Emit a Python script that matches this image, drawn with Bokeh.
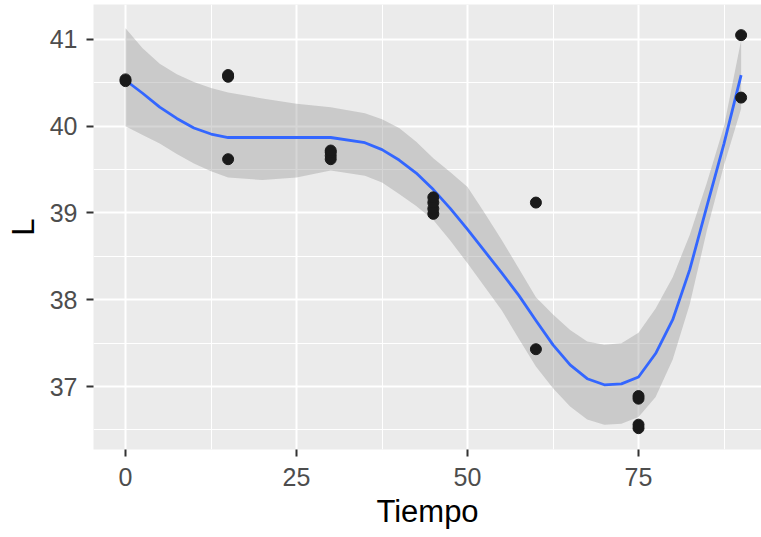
from bokeh.plotting import figure
from bokeh.models import FixedTicker, ColumnDataSource, Range1d
from bokeh.embed import file_html
from bokeh.resources import INLINE

# Observed points
pt_x = [0, 0, 15, 15, 15, 30, 30, 30, 30, 45, 45, 45, 45, 60, 60, 75, 75, 75, 75, 90, 90]
pt_y = [40.52, 40.54, 40.57, 40.59, 39.62, 39.62, 39.66, 39.70, 39.72,
        38.99, 39.05, 39.12, 39.18, 39.12, 37.43, 36.86, 36.89, 36.52, 36.56, 41.05, 40.33]

# Loess smooth with confidence band
sm_x = [0, 2.5, 5, 7.5, 10, 12.5, 15, 20, 25, 30, 35, 37.5, 40, 42.5, 45, 47.5, 50,
        52.5, 55, 57.5, 60, 62.5, 65, 67.5, 70, 72.5, 75, 77.5, 80, 82.5, 85, 87.5, 90]
sm_y = [40.53, 40.38, 40.22, 40.09, 39.98, 39.91, 39.87, 39.87, 39.87, 39.87, 39.81, 39.73,
        39.61, 39.46, 39.27, 39.05, 38.81, 38.56, 38.31, 38.05, 37.76, 37.48, 37.25, 37.09,
        37.02, 37.03, 37.11, 37.38, 37.77, 38.35, 39.08, 39.80, 40.59]
sm_hi = [41.13, 40.90, 40.72, 40.60, 40.51, 40.44, 40.39, 40.32, 40.26, 40.22, 40.15, 40.08,
         39.98, 39.82, 39.63, 39.47, 39.30, 39.00, 38.69, 38.36, 38.03, 37.83, 37.65, 37.52,
         37.48, 37.50, 37.62, 37.90, 38.26, 38.75, 39.35, 40.00, 40.99]
sm_lo = [40.00, 39.90, 39.80, 39.68, 39.57, 39.48, 39.41, 39.38, 39.41, 39.49, 39.43, 39.35,
         39.22, 39.08, 38.92, 38.68, 38.42, 38.15, 37.88, 37.55, 37.23, 36.98, 36.77, 36.62,
         36.56, 36.57, 36.65, 36.88, 37.31, 37.95, 38.80, 39.55, 40.20]

x_ticks = [0, 25, 50, 75]
x_minor = [12.5, 37.5, 62.5, 87.5]
y_ticks = [37, 38, 39, 40, 41]
y_minor = [36.5, 37.5, 38.5, 39.5, 40.5]

p = figure(width=761, height=537, output_backend="svg", toolbar_location=None,
           x_range=Range1d(-4.68, 92.98), y_range=Range1d(36.274, 41.403),
           min_border_left=93, min_border_right=0, min_border_top=4, min_border_bottom=88)
p.outline_line_color = None
p.background_fill_color = "#EBEBEB"
p.border_fill_color = "white"

p.xaxis.ticker = FixedTicker(ticks=x_ticks, minor_ticks=x_minor)
p.yaxis.ticker = FixedTicker(ticks=y_ticks, minor_ticks=y_minor)

for g in (p.xgrid, p.ygrid):
    g.grid_line_color = "white"
    g.grid_line_width = 2
    g.minor_grid_line_color = "white"
    g.minor_grid_line_width = 1

for ax in (p.xaxis, p.yaxis):
    ax.axis_line_color = None
    ax.minor_tick_line_color = None
    ax.major_tick_line_color = "#333333"
    ax.major_tick_line_width = 2
    ax.major_tick_in = 0
    ax.major_tick_out = 7
    ax.major_label_text_font = "Liberation Sans"
    ax.major_label_text_font_size = "25px"
    ax.major_label_text_color = "#4D4D4D"
    ax.axis_label_text_font = "Liberation Sans"
    ax.axis_label_text_font_size = "31px"
    ax.axis_label_text_font_style = "normal"
    ax.axis_label_text_color = "black"

p.xaxis.axis_label = "Tiempo"
p.yaxis.axis_label = "L"
p.xaxis.major_label_standoff = 11
p.yaxis.major_label_standoff = 9
p.xaxis.axis_label_standoff = 5
p.yaxis.axis_label_standoff = 6

src = ColumnDataSource(dict(x=sm_x, y=sm_y, lo=sm_lo, hi=sm_hi))
p.varea(x="x", y1="lo", y2="hi", source=src, fill_color="#999999", fill_alpha=0.4)
p.line(x="x", y="y", source=src, line_color="#3366FF", line_width=2.8, line_join="round")
p.scatter(pt_x, pt_y, size=11, fill_color="#1a1a1a", line_color="#1a1a1a")

open("out.html", "w").write(file_html(p, INLINE))
